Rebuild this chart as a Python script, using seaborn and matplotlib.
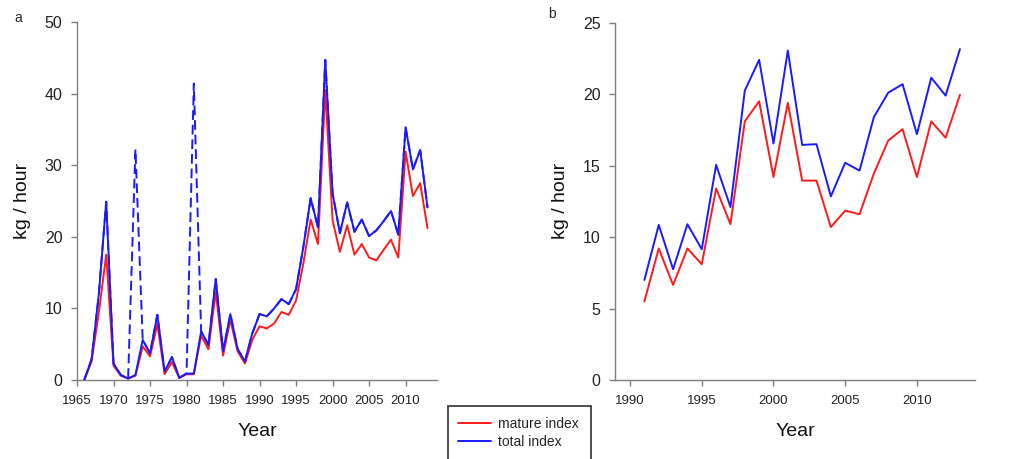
import numpy as np
import pandas as pd
import seaborn as sns
import matplotlib
matplotlib.use("Agg")
import matplotlib.pyplot as plt
from matplotlib.patches import Rectangle

# ---- panel a: long series 1966-2013 ----
years_a = list(range(1966, 2014))
mature_a = [0.0, 2.6, 9.5, 17.5, 2.0, 0.6, 0.2, 0.6, 4.7, 3.3, 7.8, 0.8,
            2.5, 0.3, 0.8, 0.8, 6.2, 4.3, 12.3, 3.4, 8.4, 4.0, 2.3, 5.6,
            7.5, 7.2, 7.9, 9.5, 9.1, 11.1, 16.3, 22.4, 19.0, 40.5, 22.3, 17.9,
            21.6, 17.5, 19.0, 17.1, 16.7, 18.2, 19.6, 17.1, 31.9, 25.7, 27.5, 21.2]
total_a = [0.0, 2.9, 12.1, 24.9, 2.3, 0.7, 0.2, 0.7, 5.6, 3.7, 9.1, 1.2,
           3.2, 0.3, 0.9, 0.9, 6.8, 4.9, 14.1, 4.0, 9.2, 4.3, 2.6, 6.5,
           9.2, 8.9, 10.0, 11.3, 10.6, 12.7, 18.6, 25.4, 21.3, 44.7, 26.1, 20.5,
           24.8, 20.7, 22.4, 20.1, 20.9, 22.2, 23.6, 20.3, 35.3, 29.4, 32.1, 24.1]
# total index including the two exceptional hauls (1973, 1981)
total_raw_a = list(total_a)
total_raw_a[years_a.index(1973)] = 32.2
total_raw_a[years_a.index(1981)] = 41.4

# ---- panel b: survey series 1991-2013 ----
years_b = list(range(1991, 2014))
mature_b = [5.5, 9.2, 6.65, 9.2, 8.1, 13.4, 10.9, 18.1, 19.5, 14.2, 19.4, 13.95,
            13.95, 10.7, 11.85, 11.6, 14.45, 16.75, 17.55, 14.2, 18.1, 16.95, 19.95]
total_b = [7.0, 10.85, 7.75, 10.9, 9.15, 15.05, 12.1, 20.25, 22.4, 16.55, 23.05, 16.45,
           16.5, 12.85, 15.2, 14.65, 18.4, 20.1, 20.7, 17.2, 21.15, 19.9, 23.15]

sns.set_style("ticks")
plt.rcParams["font.family"] = ["Liberation Sans", "DejaVu Sans"]

RED = "#ff1a1a"
BLUE = "#1a1aff"
GREY = "#7f7f7f"

fig = plt.figure(figsize=(10.10, 4.59), dpi=100)
ax_a = fig.add_axes([77 / 1010, 1 - 380 / 459, 360 / 1010, 358 / 459])
ax_b = fig.add_axes([615 / 1010, 1 - 380 / 459, 360 / 1010, 357.3 / 459])

df_a = pd.DataFrame({"Year": years_a, "mature": mature_a,
                     "total": total_a, "total_raw": total_raw_a})
df_b = pd.DataFrame({"Year": years_b, "mature": mature_b, "total": total_b})

sns.lineplot(data=df_a, x="Year", y="total_raw", ax=ax_a, color=BLUE, lw=1.4,
             dashes=False, linestyle=(0, (5, 2.5)), zorder=1, label="_nolegend_")
sns.lineplot(data=df_a, x="Year", y="mature", ax=ax_a, color=RED, lw=1.4,
             zorder=2, label="mature index")
sns.lineplot(data=df_a, x="Year", y="total", ax=ax_a, color=BLUE, lw=1.4,
             zorder=3, label="total index")

sns.lineplot(data=df_b, x="Year", y="mature", ax=ax_b, color=RED, lw=1.4,
             zorder=2, label="mature index")
sns.lineplot(data=df_b, x="Year", y="total", ax=ax_b, color=BLUE, lw=1.4,
             zorder=3, label="total index")

handles, labels = ax_a.get_legend_handles_labels()
for ax in (ax_a, ax_b):
    if ax.get_legend() is not None:
        ax.get_legend().remove()

ax_a.set_xlim(1965, 2014.3)
ax_a.set_ylim(0, 50)
ax_a.set_xticks(range(1965, 2011, 5))
ax_a.set_yticks(range(0, 51, 10))

ax_b.set_xlim(1988.95, 2014.05)
ax_b.set_ylim(0, 25)
ax_b.set_xticks(range(1990, 2011, 5))
ax_b.set_yticks(range(0, 26, 5))

for ax in (ax_a, ax_b):
    sns.despine(ax=ax)
    for side in ("left", "bottom"):
        ax.spines[side].set_color(GREY)
        ax.spines[side].set_linewidth(1.0)
    ax.tick_params(axis="both", colors=GREY, length=4.5, width=1.0)
    ax.tick_params(axis="x", labelsize=9.5, labelcolor="#222222", pad=6)
    ax.tick_params(axis="y", labelsize=11.5, labelcolor="#222222", pad=6)
    ax.set_xlabel("Year", fontsize=14, color="#111111", labelpad=12)
    ax.set_ylabel("kg / hour", fontsize=14, color="#111111", labelpad=10)

fig.text(14 / 1010, 1 - 18 / 459, "a", fontsize=10, va="center", ha="left")
fig.text(548 / 1010, 1 - 14 / 459, "b", fontsize=10, va="center", ha="left")

fig.legend(handles, labels, loc="upper left",
           bbox_to_anchor=(458 / 1010, 1 - 417 / 459),
           frameon=False, fontsize=10, handlelength=2.4, handletextpad=0.5,
           borderpad=0, borderaxespad=0, labelspacing=0.3)
fig.add_artist(Rectangle((448 / 1010, -0.05), (591 - 448) / 1010,
                         (1 - 405.7 / 459) + 0.05, transform=fig.transFigure,
                         fill=False, edgecolor="#404040", lw=1.3, clip_on=False))

fig.savefig("out.png", dpi=100)
